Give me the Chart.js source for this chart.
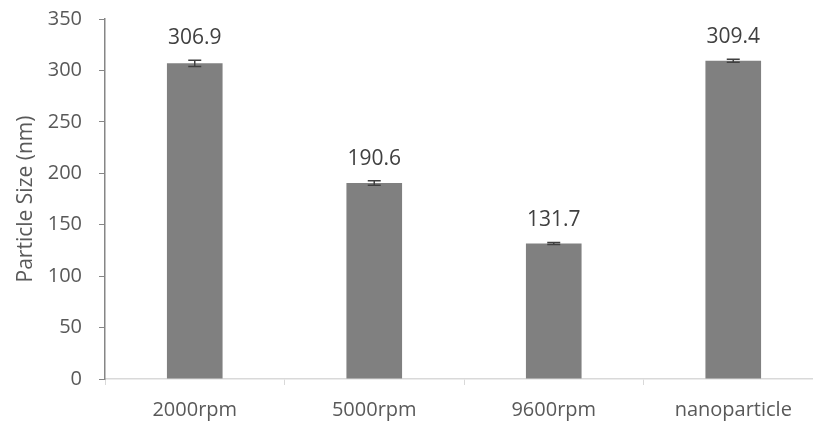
<!DOCTYPE html>
<html>
<head>
<meta charset="utf-8">
<script src="https://cdn.jsdelivr.net/npm/chart.js@4.4.1/dist/chart.umd.min.js"></script>
<style>
  html, body { margin: 0; padding: 0; background: #fff; overflow: hidden; }
  #wrap { width: 823px; height: 433px; margin-top: -10px; }
</style>
</head>
<body>
<div id="wrap"><canvas id="chartsize"></canvas></div>
<script>
const categories = ['2000rpm', '5000rpm', '9600rpm', 'nanoparticle'];
const sizes = [306.9, 190.6, 131.7, 309.4];
const errors = [3.0, 2.2, 1.0, 1.5];
const yTicks = [0, 50, 100, 150, 200, 250, 300, 350];

const fontFamily = "'Open Sans', 'Liberation Sans', sans-serif";

// error bars + value labels drawn on top of the bars
const errorBars = {
  id: 'errorBars',
  afterDatasetsDraw(chart) {
    const ctx = chart.ctx;
    const y = chart.scales.y;
    const meta = chart.getDatasetMeta(0);
    ctx.save();
    meta.data.forEach((bar, i) => {
      const top = y.getPixelForValue(sizes[i] + errors[i]);
      const bottom = y.getPixelForValue(sizes[i] - errors[i]);
      ctx.strokeStyle = '#404040';
      ctx.lineWidth = 1.5;
      ctx.beginPath();
      ctx.moveTo(bar.x, top);
      ctx.lineTo(bar.x, bottom);
      ctx.moveTo(bar.x - 6.5, top);
      ctx.lineTo(bar.x + 6.5, top);
      ctx.moveTo(bar.x - 6.5, bottom);
      ctx.lineTo(bar.x + 6.5, bottom);
      ctx.stroke();

      ctx.fillStyle = '#404040';
      ctx.font = '21px ' + fontFamily;
      ctx.textAlign = 'center';
      ctx.textBaseline = 'middle';
      ctx.fillText(sizes[i].toFixed(1), bar.x, top - 22);
    });
    ctx.restore();
  }
};

const config = {
  type: 'bar',
  data: {
    labels: categories,
    datasets: [{
      label: 'Particle Size',
      data: sizes,
      backgroundColor: '#808080',
      borderWidth: 0,
      barPercentage: 0.31,
      categoryPercentage: 1.0,
    }]
  },
  options: {
    responsive: true,
    maintainAspectRatio: false,
    animation: false,
    layout: {
      padding: { left: 2, top: 0, right: 0, bottom: 0 },
    },
    plugins: {
      legend: { display: false },
      tooltip: { enabled: false },
    },
    scales: {
      x: {
        afterFit: (axis) => { axis.height = 44; },
        grid: {
          display: true,
          drawOnChartArea: false,
          offset: true,
          tickLength: 6,
          color: '#d9d9d9',
        },
        border: { color: '#d9d9d9', width: 1.5 },
        ticks: {
          color: '#595959',
          padding: 13,
          font: { family: fontFamily, size: 20 },
        },
      },
      y: {
        min: 0,
        max: 350,
        afterBuildTicks: (axis) => {
          axis.ticks = yTicks.map(v => ({ value: v }));
        },
        afterFit: (axis) => { axis.width = 103; },
        grid: {
          display: true,
          drawOnChartArea: false,
          tickLength: 6,
          color: '#868686',
        },
        border: { color: '#868686', width: 1.5 },
        ticks: {
          color: '#595959',
          padding: 17,
          font: { family: fontFamily, size: 20 },
        },
        title: {
          display: true,
          text: 'Particle Size (nm)',
          color: '#595959',
          font: { family: fontFamily, size: 21 },
          padding: { top: 11, bottom: 0 },
        },
      },
    },
  },
  plugins: [errorBars],
};

const chartsize = new Chart(document.getElementById('chartsize'), config);
</script>
</body>
</html>
